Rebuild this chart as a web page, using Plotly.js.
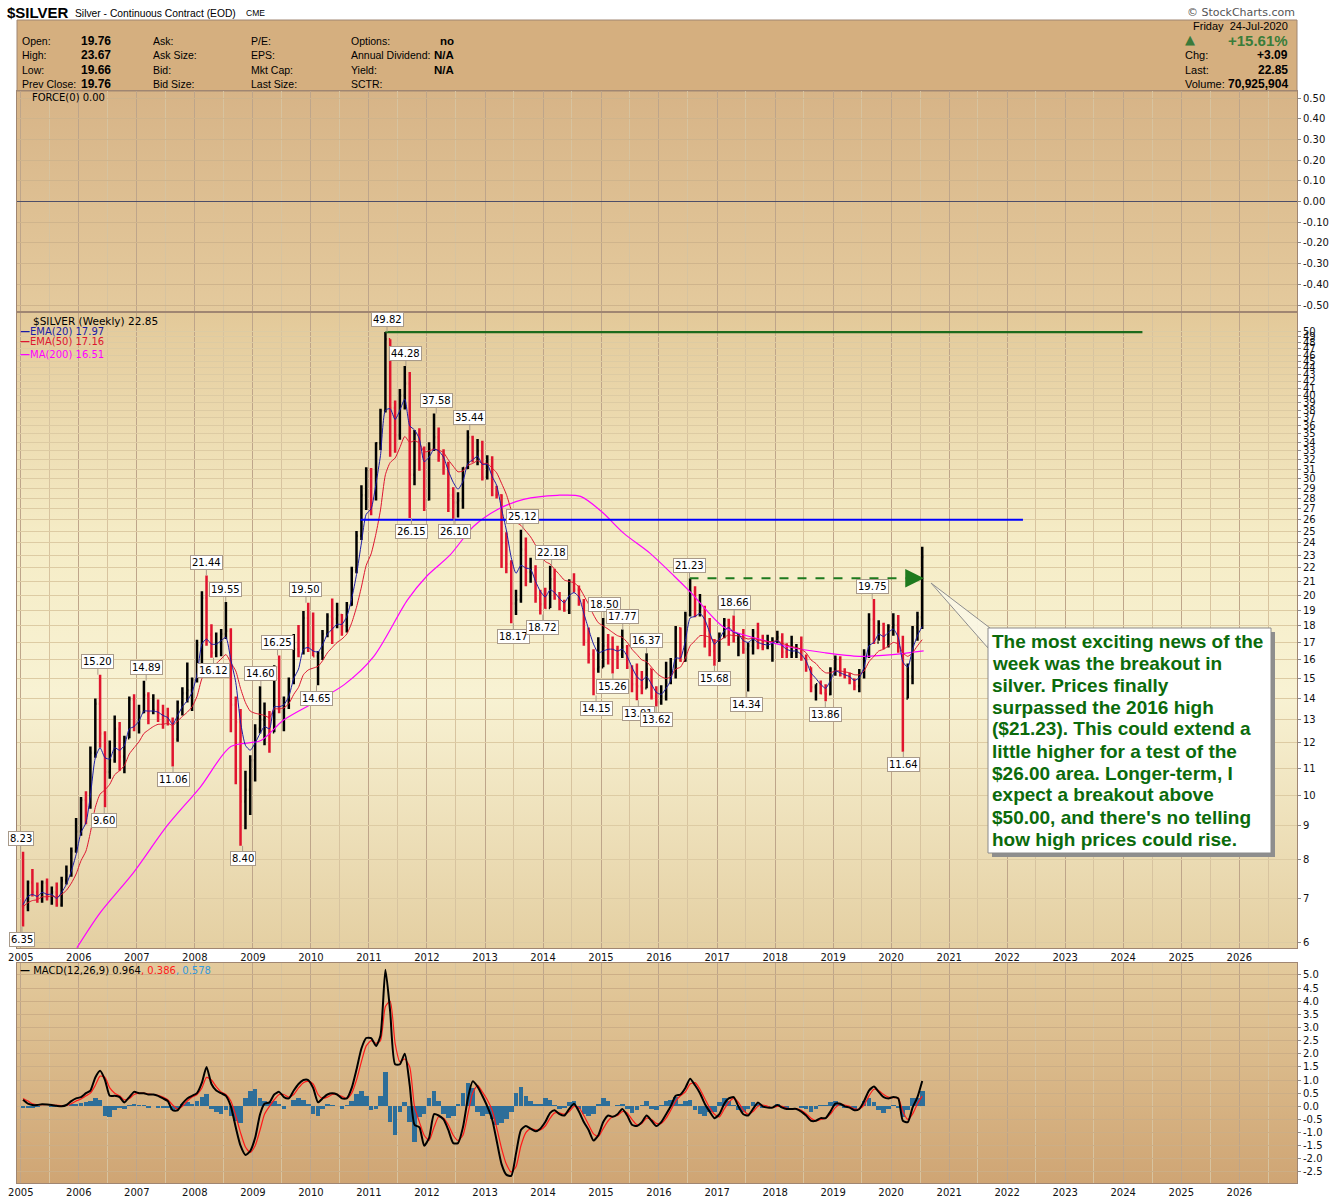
<!DOCTYPE html>
<html>
<head>
<meta charset="utf-8">
<script src="https://cdn.plot.ly/plotly-3.0.1.min.js"></script>
<style>
html,body{margin:0;padding:0;background:#ffffff;}
#chart{width:1340px;height:1200px;}
</style>
</head>
<body>
<div id="chart"></div>
<script>
// ---------------- DATA (monthly) ----------------
const firstOpen = 6.82;
const closes = [
 6.79,7.40,7.15,7.05,7.40,7.05,7.15,6.85,7.45,7.70,8.25,8.83,
 9.85,9.65,11.60,13.75,12.40,10.85,11.30,12.60,11.45,12.20,13.95,12.90,
 13.35,14.15,13.35,13.45,13.25,12.95,12.95,12.15,13.80,14.25,14.40,14.95,
 16.85,19.85,17.45,16.40,16.95,17.50,17.70,13.70,12.90,9.80,10.20,11.30,
 12.60,13.00,13.10,12.45,15.60,13.55,13.90,14.85,16.60,16.45,18.50,16.90,
 16.20,16.40,17.50,18.60,18.45,18.70,18.00,19.35,21.80,24.60,28.30,30.90,
 27.95,33.90,37.90,48.60,38.30,34.85,40.00,41.70,30.40,35.00,32.80,27.90,
 33.20,34.60,32.50,31.20,28.30,27.60,27.80,31.10,34.60,32.30,33.00,30.10,
 31.50,28.35,28.30,24.00,22.30,19.45,19.70,23.45,21.70,21.85,19.80,19.40,
 19.15,21.15,19.80,19.10,19.00,21.00,20.40,19.45,17.10,16.30,15.50,15.60,
 16.80,16.60,16.60,16.30,16.75,15.60,14.70,14.60,14.50,15.50,14.10,13.82,
 14.10,14.80,15.45,17.85,15.95,18.70,20.30,18.70,19.20,17.70,16.50,15.95,
 17.50,18.35,18.20,17.20,17.40,16.60,16.80,17.60,16.75,16.75,16.80,17.10,
 17.30,16.45,16.30,16.40,16.45,16.10,15.60,14.55,14.70,14.25,14.20,15.50,
 16.05,15.20,15.10,14.95,14.60,15.30,16.40,18.40,17.00,18.10,17.10,17.95,
 18.05,16.70,14.00,15.10,17.90,18.55,22.85
];
const highs = [
 8.23,7.45,7.75,7.40,7.45,7.50,7.30,7.40,7.55,7.85,8.35,9.25,
 9.95,10.15,11.85,14.00,15.20,12.50,12.10,13.20,12.90,12.30,14.10,14.20,
 13.70,14.89,14.30,14.20,13.95,13.70,13.55,13.10,13.90,14.55,15.85,15.05,
 17.15,20.30,21.44,18.10,17.60,17.80,19.55,17.85,14.10,13.50,10.90,11.50,
 12.80,14.60,13.80,13.40,15.70,16.25,14.10,15.05,17.50,18.05,18.95,19.50,
 18.85,16.50,17.75,18.80,19.80,19.50,18.75,19.55,22.10,25.00,29.30,31.20,
 31.10,34.00,38.20,49.82,48.60,39.30,40.90,44.28,43.40,35.50,35.70,33.50,
 34.00,37.58,35.80,33.20,31.80,29.10,28.60,31.20,35.44,34.80,34.40,34.20,
 32.50,32.40,29.25,28.40,24.90,22.60,20.40,25.12,24.45,22.80,22.20,20.40,
 20.55,22.18,21.95,20.25,19.70,21.15,21.60,20.70,19.75,17.90,16.60,17.30,
 18.50,17.50,17.35,16.80,17.77,16.85,15.70,15.80,15.40,16.37,15.50,14.60,
 14.65,15.90,16.10,18.00,17.90,18.90,21.23,20.65,20.10,19.30,18.50,17.20,
 17.60,18.50,18.45,18.66,17.50,17.80,17.00,17.80,18.20,17.45,17.45,17.30,
 17.70,17.55,16.95,17.40,16.90,17.35,16.30,15.60,14.70,14.90,14.70,15.60,
 16.25,16.20,15.55,15.30,15.00,15.50,16.60,18.80,19.75,18.35,18.20,18.10,
 18.80,18.70,17.40,15.80,18.00,18.90,23.67
];
const lows = [
 6.35,6.70,7.05,6.90,6.90,6.95,6.85,6.80,6.80,7.35,7.55,8.20,
 8.70,9.05,9.55,11.40,11.80,9.60,10.60,11.20,10.90,10.80,12.20,12.50,
 12.40,13.30,12.80,13.25,12.90,12.60,12.75,11.06,12.05,13.20,13.80,13.40,
 14.80,15.70,16.80,16.12,16.15,16.20,17.20,12.45,10.40,8.40,8.90,9.35,
 10.50,12.40,11.90,11.60,12.45,13.30,12.50,13.50,14.70,16.15,16.30,16.45,
 16.20,14.65,16.00,17.30,16.90,17.85,17.40,17.60,19.30,21.60,24.25,26.90,
 26.40,27.80,33.10,37.70,32.35,32.80,34.30,38.10,26.15,29.30,30.80,26.80,
 27.80,33.00,31.80,30.40,26.70,26.10,26.20,27.00,31.00,31.70,31.40,29.80,
 29.90,28.20,28.00,22.00,21.60,18.17,18.70,19.50,20.65,20.90,19.50,18.72,
 19.10,19.15,19.70,19.00,18.90,18.75,20.20,19.30,16.80,15.80,14.15,15.30,
 15.60,15.75,15.26,15.50,16.10,15.50,14.30,13.91,14.20,14.50,13.95,13.62,
 13.70,13.90,14.70,15.00,15.90,15.90,18.60,18.55,18.60,16.70,16.20,15.68,
 15.90,17.25,16.80,17.00,16.20,16.35,14.34,16.30,16.60,16.55,16.60,15.90,
 16.95,16.10,16.10,16.10,16.10,15.95,15.35,14.30,13.90,14.20,13.86,14.15,
 15.15,15.10,15.00,14.70,14.40,14.30,15.00,16.10,16.90,17.10,16.60,16.70,
 17.40,16.40,11.64,14.00,14.70,17.10,17.80
];
const ema20 = [
 6.85,7.05,7.10,7.05,7.15,7.10,7.10,7.00,7.15,7.35,7.70,8.15,
 8.80,9.10,10.00,11.40,11.80,11.40,11.35,11.80,11.70,11.90,12.60,12.70,
 12.95,13.40,13.40,13.40,13.35,13.20,13.10,12.80,13.20,13.60,13.90,14.30,
 15.20,16.90,17.20,16.90,16.90,17.10,17.30,16.00,14.80,12.90,11.90,11.70,
 12.00,12.40,12.70,12.60,13.60,13.60,13.70,14.10,15.00,15.50,16.60,16.70,
 16.50,16.45,16.85,17.50,17.80,18.10,18.10,18.60,19.80,21.50,24.00,26.50,
 27.00,29.50,32.50,38.00,38.20,36.80,38.00,39.50,36.00,35.50,34.40,31.80,
 32.30,33.20,33.00,32.30,30.80,29.60,28.90,29.70,31.60,32.00,32.40,31.50,
 31.50,30.20,29.30,27.00,25.10,22.80,21.60,22.20,22.00,21.90,21.00,20.30,
 19.90,20.40,20.20,19.80,19.50,20.00,20.20,19.90,18.80,17.80,16.90,16.40,
 16.50,16.60,16.60,16.50,16.60,16.20,15.60,15.10,14.90,15.10,14.70,14.30,
 14.20,14.50,14.90,16.10,16.10,17.10,18.50,18.60,18.80,18.40,17.60,16.90,
 17.20,17.70,17.90,17.60,17.50,17.10,17.00,17.20,17.00,16.90,16.85,16.95,
 17.10,16.80,16.60,16.50,16.50,16.30,15.95,15.30,15.00,14.70,14.50,14.90,
 15.40,15.30,15.20,15.10,14.90,15.05,15.60,16.80,17.00,17.50,17.35,17.60,
 17.80,17.30,15.90,15.60,16.60,17.40,17.97
];
const ema50 = [
 6.80,6.90,6.95,6.97,7.04,7.04,7.06,7.03,7.10,7.20,7.38,7.62,
 7.98,8.25,8.80,9.60,10.05,10.20,10.40,10.75,10.90,11.10,11.55,11.80,
 12.05,12.40,12.55,12.70,12.80,12.80,12.85,12.75,12.95,13.15,13.35,13.60,
 14.10,15.00,15.40,15.60,15.80,16.05,16.30,15.85,15.40,14.50,13.80,13.40,
 13.30,13.25,13.20,13.10,13.50,13.50,13.55,13.75,14.20,14.55,15.20,15.45,
 15.55,15.65,15.95,16.40,16.70,17.00,17.20,17.50,18.20,19.20,20.60,22.20,
 23.10,24.80,26.90,30.40,31.70,32.20,33.40,34.70,34.00,34.20,33.90,32.90,
 33.00,33.20,33.10,32.80,32.00,31.30,30.70,30.80,31.40,31.60,31.90,31.60,
 31.60,31.10,30.60,29.50,28.40,26.90,25.80,25.50,25.00,24.50,23.80,23.10,
 22.50,22.30,21.90,21.50,21.10,21.00,20.90,20.60,20.00,19.40,18.70,18.20,
 18.00,17.80,17.60,17.40,17.30,17.00,16.60,16.30,16.00,15.90,15.60,15.30,
 15.10,15.00,15.10,15.50,15.60,16.10,16.80,17.10,17.40,17.40,17.30,17.10,
 17.10,17.30,17.45,17.40,17.40,17.30,17.20,17.25,17.15,17.10,17.05,17.05,
 17.10,16.95,16.85,16.75,16.70,16.60,16.40,16.00,15.80,15.50,15.30,15.30,
 15.40,15.40,15.35,15.30,15.20,15.20,15.40,15.90,16.20,16.50,16.60,16.80,
 17.00,16.90,16.40,16.20,16.40,16.80,17.16
];
const ma200Dates = ['2005-12-20','2006-05-15','2006-12-10','2007-07-10','2008-02-05','2008-08-15','2009-02-20','2009-07-15','2010-02-15','2010-08-01','2011-02-01','2011-09-01','2012-01-01','2012-05-25','2012-10-20','2013-03-15','2013-09-01','2014-04-01','2014-08-25','2015-01-01','2015-05-25','2015-11-01','2016-04-05','2016-07-20','2017-02-15','2017-09-20','2018-04-15','2018-11-10','2019-06-15','2020-01-10','2020-07-24'];
const ma200 = [5.9,6.66,7.65,9.0,10.3,11.85,12.1,13.0,13.9,14.7,16.2,19.7,21.4,23.0,25.4,26.9,27.9,28.3,28.2,26.8,24.8,23.2,21.4,20.2,17.9,17.2,16.7,16.4,16.2,16.3,16.51];
const macd = [
 0.25,0.10,0.05,0.05,0.08,0.07,0.05,0.02,0.00,0.05,0.20,0.30,
 0.35,0.50,0.60,1.10,1.35,1.00,0.40,0.40,0.35,0.15,0.35,0.55,
 0.50,0.50,0.45,0.45,0.40,0.30,0.20,-0.15,-0.15,0.10,0.30,0.40,
 0.50,0.90,1.50,0.85,0.60,0.50,0.40,0.00,-0.80,-1.50,-1.85,-1.70,
 -1.20,-0.30,0.10,0.15,0.45,0.55,0.35,0.30,0.60,0.85,1.00,1.00,
 0.70,0.15,0.30,0.45,0.50,0.45,0.30,0.30,0.70,1.40,2.20,2.60,
 2.60,2.30,2.70,5.20,3.60,1.60,1.60,2.00,0.80,-0.70,-0.80,-1.50,
 -1.20,-0.30,-0.35,-0.50,-0.90,-1.40,-1.40,-0.80,0.30,0.95,0.75,0.40,
 0.00,-0.50,-1.30,-2.20,-2.60,-2.65,-1.80,-0.90,-0.75,-0.85,-0.95,-0.85,
 -0.60,-0.25,-0.15,-0.30,-0.35,-0.10,0.10,-0.20,-0.60,-0.90,-1.30,-1.10,
 -0.60,-0.35,-0.40,-0.30,-0.10,-0.35,-0.70,-0.75,-0.60,-0.35,-0.55,-0.75,
 -0.60,-0.30,0.00,0.40,0.45,0.70,1.05,0.80,0.50,0.10,-0.20,-0.45,
 -0.30,0.10,0.30,0.35,0.00,-0.30,-0.35,-0.10,0.15,0.00,-0.05,-0.05,
 0.05,-0.05,-0.10,-0.10,-0.10,-0.20,-0.35,-0.55,-0.55,-0.45,-0.45,-0.20,
 0.10,0.10,0.00,-0.05,-0.15,-0.10,0.20,0.60,0.75,0.55,0.35,0.30,
 0.35,0.30,-0.55,-0.60,-0.05,0.35,0.964
];
const signal = [
 0.30,0.20,0.10,0.06,0.06,0.07,0.06,0.04,0.02,0.03,0.10,0.20,
 0.28,0.40,0.50,0.80,1.15,1.10,0.70,0.50,0.40,0.25,0.30,0.45,
 0.50,0.50,0.47,0.45,0.42,0.35,0.25,0.05,-0.10,0.00,0.20,0.35,
 0.45,0.70,1.10,1.00,0.75,0.55,0.45,0.20,-0.35,-1.00,-1.55,-1.75,
 -1.50,-0.90,-0.30,0.00,0.25,0.45,0.45,0.35,0.45,0.70,0.90,0.95,
 0.85,0.45,0.30,0.35,0.45,0.45,0.38,0.30,0.50,1.00,1.70,2.30,
 2.50,2.40,2.50,3.80,4.00,2.40,1.70,1.80,1.50,0.00,-0.60,-1.10,
 -1.30,-0.80,-0.40,-0.45,-0.70,-1.10,-1.30,-1.10,-0.30,0.50,0.80,0.55,
 0.25,-0.15,-0.80,-1.60,-2.20,-2.50,-2.30,-1.50,-1.00,-0.85,-0.90,-0.90,
 -0.75,-0.45,-0.25,-0.25,-0.30,-0.20,0.00,-0.05,-0.35,-0.70,-1.05,-1.15,
 -0.85,-0.55,-0.40,-0.35,-0.20,-0.25,-0.50,-0.70,-0.65,-0.45,-0.50,-0.65,
 -0.65,-0.45,-0.15,0.20,0.40,0.55,0.85,0.90,0.65,0.30,-0.05,-0.30,
 -0.40,-0.10,0.15,0.30,0.15,-0.15,-0.30,-0.20,0.00,0.05,0.00,-0.05,
 0.00,0.00,-0.07,-0.10,-0.10,-0.15,-0.28,-0.45,-0.55,-0.50,-0.45,-0.30,
 -0.05,0.08,0.05,0.00,-0.10,-0.10,0.05,0.40,0.65,0.60,0.45,0.35,
 0.33,0.32,-0.20,-0.50,-0.30,0.10,0.386
];
const macdHist = [
 -0.05,-0.08,-0.05,-0.02,0.02,0.00,-0.02,-0.02,-0.02,0.02,0.08,0.10,
 0.12,0.15,0.20,0.30,0.25,-0.35,-0.40,-0.15,-0.05,-0.10,0.05,0.10,
 0.05,0.05,-0.05,0.02,-0.05,-0.08,-0.08,-0.15,-0.10,0.10,0.15,0.10,
 0.20,0.35,0.45,-0.10,-0.20,-0.30,-0.15,-0.35,-0.55,-0.65,0.30,0.60,
 0.65,0.30,0.20,0.15,0.20,0.10,-0.10,0.00,0.25,0.30,0.25,0.10,
 -0.30,-0.35,-0.10,0.10,0.05,0.00,-0.10,0.05,0.20,0.45,0.60,0.40,
 -0.15,-0.10,0.40,1.30,-0.60,-1.10,-0.20,0.15,-0.60,-1.35,-0.40,-0.30,
 0.30,0.60,0.20,-0.30,-0.45,-0.35,0.10,0.50,0.90,0.70,-0.20,-0.35,
 -0.30,-0.50,-0.70,-0.65,-0.50,-0.20,0.50,0.75,0.40,0.20,0.10,0.10,
 0.30,0.25,0.05,-0.10,-0.05,0.15,0.20,-0.10,-0.30,-0.35,-0.30,0.10,
 0.30,0.20,0.00,0.05,0.10,-0.10,-0.25,-0.15,0.05,0.20,-0.10,-0.15,
 0.05,0.20,0.25,0.35,0.10,0.20,0.25,-0.15,-0.30,-0.35,-0.20,-0.20,
 0.15,0.30,0.20,0.05,-0.15,-0.20,-0.10,0.15,0.10,-0.05,-0.05,0.00,
 0.08,-0.05,-0.05,0.00,0.00,-0.05,-0.10,-0.20,-0.10,0.05,0.05,0.15,
 0.20,0.10,-0.05,-0.05,-0.10,0.00,0.20,0.30,0.15,-0.15,-0.25,-0.10,
 0.05,-0.05,-0.40,-0.15,0.30,0.30,0.578
];
// pivot labels
const pivotDates = ['2004-12-31','2005-01-08','2006-05-01','2006-06-10','2007-03-01','2007-08-17','2008-03-14','2008-04-28','2008-07-14','2008-10-28','2009-02-20','2009-06-05','2009-12-01','2010-02-05','2011-04-25','2011-08-22','2011-09-26','2012-02-29','2012-06-20','2012-09-27','2013-06-28','2013-08-28','2013-12-31','2014-02-24','2014-12-01','2015-01-20','2015-03-17','2015-05-18','2015-08-24','2015-10-15','2015-12-14','2016-07-11','2016-12-15','2017-04-18','2017-07-06','2018-11-13','2019-09-04','2020-03-18'];
const pivotValues = [8.23,6.35,15.20,9.60,14.89,11.06,21.44,16.12,19.55,8.40,14.60,16.25,19.50,14.65,49.82,44.28,26.15,37.58,26.10,35.44,18.17,25.12,18.72,22.18,14.15,18.50,15.26,17.77,13.91,16.37,13.62,21.23,15.68,18.66,14.34,13.86,19.75,11.64];
const pivotSide = ['H','L','H','L','H','L','H','L','H','L','H','H','H','L','H','H','L','H','L','H','L','H','L','H','L','H','L','H','L','H','L','H','L','H','L','L','H','L'];
// drawn levels
const resistanceLevel = [49.82, 49.82], resistanceSpan = ['2011-04-15','2024-05-01'];
const supportLevel = [26.00, 26.00], supportSpan = ['2010-11-10','2022-04-10'];
const breakoutLevel = [21.23, 21.23], breakoutSpan = ['2016-07-11','2020-05-12'];
const breakoutArrowTip = '2020-07-26';
// ticks
const priceTicks = [6,7,8,9,10,11,12,13,14,15,16,17,18,19,20,21,22,23,24,25,26,27,28,29,30,31,32,33,34,35,36,37,38,39,40,41,42,43,44,45,46,47,48,49,50];
const forceTicks = [-0.5,-0.4,-0.3,-0.2,-0.1,0,0.1,0.2,0.3,0.4,0.5];
const macdTicks = [-2.5,-2.0,-1.5,-1.0,-0.5,0,0.5,1.0,1.5,2.0,2.5,3.0,3.5,4.0,4.5,5.0];
// header texts
const hdrLabels = [['Open:','High:','Low:','Prev Close:'],['Ask:','Ask Size:','Bid:','Bid Size:'],['P/E:','EPS:','Mkt Cap:','Last Size:'],['Options:','Annual Dividend:','Yield:','SCTR:']];
const hdrValues = ['19.76','23.67','19.66','19.76'];
const hdrCol4Values = ['no','N/A','N/A',''];
const quoteDate = 'Friday\u00a0\u00a024-Jul-2020', pctChange = '+15.61%', chgValue = '+3.09', lastValue = '22.85', volumeValue = '70,925,904';
const calloutLines = ["The most exciting news of the","week was the breakout in","silver. Prices finally","surpassed the 2016 high","($21.23). This could extend a","little higher for a test of the","$26.00 area. Longer-term, I","expect a breakout above","$50.00, and there's no telling","how high prices could rise."];

// ---------------- derived ----------------
const months = closes.map((_, i) => `${2005 + Math.floor(i / 12)}-${String(i % 12 + 1).padStart(2, '0')}-15`);
const opens = closes.map((c, i) => i === 0 ? firstOpen : closes[i - 1]);

// ---------------- layout helpers ----------------
const P = px => (px - 17) / 1280;
const Q = py => (1183 - py) / 1092;
function grad(stops) {
  const s = stops.map(([o, c]) => `<stop offset='${o}' stop-color='${c}'/>`).join('');
  const svg = `<svg xmlns='http://www.w3.org/2000/svg' width='10' height='100' viewBox='0 0 10 100' preserveAspectRatio='none'><defs><linearGradient id='g' x1='0' y1='0' x2='0' y2='1'>${s}</linearGradient></defs><rect width='10' height='100' fill='url(#g)'/></svg>`;
  return 'data:image/svg+xml;charset=utf-8,' + encodeURIComponent(svg);
}
function txt(text, px, py, opt) {
  return Object.assign({xref:'paper', yref:'paper', x:P(px), y:Q(py), text:text, showarrow:false,
    xanchor:'left', yanchor:'middle', font:{family:'Liberation Sans', size:10.5, color:'#000'}}, opt || {});
}

const domForce = [0.7985, 1.0], domPrice = [0.2152, 0.7967], domMacd = [0, 0.2015];

// ---------------- traces ----------------
const traces = [
  {type:'scatter', mode:'lines', x:[], y:[], xaxis:'x3', yaxis:'y3', hoverinfo:'skip'},
  {type:'ohlc', x:months, open:opens, high:highs, low:lows, close:closes, xaxis:'x2', yaxis:'y2',
   increasing:{line:{color:'#000000', width:2.5}}, decreasing:{line:{color:'#E0142E', width:2.5}},
   tickwidth:0.3, hoverinfo:'skip'},
  {type:'scatter', mode:'lines', x:ma200Dates, y:ma200, xaxis:'x2', yaxis:'y2',
   line:{color:'#FF00FF', width:1.2, shape:'spline', smoothing:0.8}, hoverinfo:'skip'},
  {type:'scatter', mode:'lines', x:months, y:ema50, xaxis:'x2', yaxis:'y2',
   line:{color:'#DD1530', width:1, shape:'spline', smoothing:0.6}, hoverinfo:'skip'},
  {type:'scatter', mode:'lines', x:months, y:ema20, xaxis:'x2', yaxis:'y2',
   line:{color:'#1B1BA6', width:1, shape:'spline', smoothing:0.6}, hoverinfo:'skip'},
  {type:'scatter', mode:'lines', x:resistanceSpan, y:resistanceLevel, xaxis:'x2', yaxis:'y2',
   line:{color:'#1C6A1C', width:2.2}, hoverinfo:'skip'},
  {type:'scatter', mode:'lines', x:supportSpan, y:supportLevel, xaxis:'x2', yaxis:'y2',
   line:{color:'#0000FF', width:2.2}, hoverinfo:'skip'},
  {type:'scatter', mode:'lines', x:breakoutSpan, y:breakoutLevel, xaxis:'x2', yaxis:'y2',
   line:{color:'#1E7A1E', width:2.2, dash:'dash'}, hoverinfo:'skip'},
  {type:'bar', x:months, y:macdHist, xaxis:'x', yaxis:'y', marker:{color:'#2D6E99', line:{width:0}},
   width:29*86400000, hoverinfo:'skip'},
  {type:'scatter', mode:'lines', x:months, y:signal, xaxis:'x', yaxis:'y',
   line:{color:'#FF1A1A', width:1.2, shape:'spline', smoothing:0.6}, hoverinfo:'skip'},
  {type:'scatter', mode:'lines', x:months, y:macd, xaxis:'x', yaxis:'y',
   line:{color:'#000000', width:2, shape:'spline', smoothing:0.6}, hoverinfo:'skip'}
];

// ---------------- axes ----------------
const xCommon = {
  type:'date', range:['2004-12-08','2026-12-30'], dtick:'M12', tick0:'2005-01-01', tickformat:'%Y',
  showgrid:true, gridcolor:'#BEA58A', gridwidth:1,
  minor:{dtick:'M6', tick0:'2005-01-01', showgrid:true, gridcolor:'#D7C39F', gridwidth:1},
  showline:true, mirror:true, linecolor:'#A08672', linewidth:1, ticks:'', zeroline:false,
  tickfont:{family:'DejaVu Sans', size:10, color:'#111'}, fixedrange:true
};
const yCommon = {side:'right', showline:true, mirror:true, linecolor:'#A08672', linewidth:1,
  ticks:'outside', ticklen:3, tickcolor:'#888', tickfont:{family:'DejaVu Sans', size:10, color:'#111'},
  fixedrange:true, zeroline:false};

// ---------------- annotations ----------------
const ann = [];
pivotDates.forEach((d, i) => {
  const up = pivotSide[i] === 'H';
  ann.push({xref:'x2', yref:'y2', x:d, y:Math.log10(pivotValues[i]), text:pivotValues[i].toFixed(2),
    showarrow:true, arrowhead:0, arrowwidth:1, arrowcolor:'#A89A8A', ax:0, ay: up ? -13 : 13,
    bgcolor:'#FFFFFF', bordercolor:'#A89A8A', borderwidth:1, borderpad:1,
    font:{family:'DejaVu Sans', size:10, color:'#000'}});
});
ann.push({xref:'x2', yref:'y2', x:breakoutArrowTip, y:Math.log10(breakoutLevel[0]), text:'',
  showarrow:true, arrowhead:2, arrowsize:1.7, arrowwidth:2.2, arrowcolor:'#1E7A1E', ax:-16, ay:0});
// title
ann.push(txt('<b>$SILVER</b>', 5, 12, {font:{family:'Liberation Sans', size:15, color:'#000'}}));
ann.push(txt('Silver - Continuous Contract (EOD)', 73, 13, {font:{family:'Liberation Sans', size:10.3, color:'#000'}}));
ann.push(txt('CME', 244, 13, {font:{family:'Liberation Sans', size:8.5, color:'#000'}}));
ann.push(txt('\u00a9 StockCharts.com', 1297, 12, {xanchor:'right', font:{family:'DejaVu Sans', size:11, color:'#555'}}));
// header left block
const rowsY = [41, 55, 70, 84];
const colX = [20, 151, 249, 349];
hdrLabels.forEach((col, c) => col.forEach((lab, r) => ann.push(txt(lab, colX[c], rowsY[r]))));
hdrValues.forEach((v, r) => ann.push(txt('<b>' + v + '</b>', 113, rowsY[r], {xanchor:'right', font:{family:'Liberation Sans', size:12, color:'#000'}})));
hdrCol4Values.forEach((v, r) => { if (v) ann.push(txt('<b>' + v + '</b>', 456, rowsY[r], {xanchor:'right', font:{family:'Liberation Sans', size:11.5, color:'#000'}})); });
// header right block
ann.push(txt(quoteDate, 1290, 26, {xanchor:'right', font:{family:'Liberation Sans', size:11, color:'#000'}}));
ann.push(txt('\u25B2', 1190, 40, {xanchor:'center', font:{family:'DejaVu Sans', size:13, color:'#3A7A3A'}}));
ann.push(txt('<b>' + pctChange + '</b>', 1290, 41, {xanchor:'right', font:{family:'Liberation Sans', size:15, color:'#3A7D3A'}}));
ann.push(txt('Chg:', 1183, 55, {font:{family:'Liberation Sans', size:11, color:'#000'}}));
ann.push(txt('<b>' + chgValue + '</b>', 1290, 55, {xanchor:'right', font:{family:'Liberation Sans', size:12, color:'#000'}}));
ann.push(txt('Last:', 1183, 70, {font:{family:'Liberation Sans', size:11, color:'#000'}}));
ann.push(txt('<b>' + lastValue + '</b>', 1290, 70, {xanchor:'right', font:{family:'Liberation Sans', size:12, color:'#000'}}));
ann.push(txt('Volume:', 1183, 84, {font:{family:'Liberation Sans', size:11, color:'#000'}}));
ann.push(txt('<b>' + volumeValue + '</b>', 1290, 84, {xanchor:'right', font:{family:'Liberation Sans', size:12, color:'#000'}}));
// panel legends
const lf = {family:'DejaVu Sans', size:10, color:'#000'};
ann.push(txt('FORCE(0) 0.00', 30, 98, {font:lf}));
ann.push(txt('$SILVER (Weekly) 22.85', 31, 321, {font:{family:'DejaVu Sans', size:10.5, color:'#000'}}));
ann.push(txt('<b>\u2014</b>EMA(20) 17.97', 18, 331, {font:{family:'DejaVu Sans', size:10, color:'#1B1BA6'}}));
ann.push(txt('<b>\u2014</b>EMA(50) 17.16', 18, 342, {font:{family:'DejaVu Sans', size:10, color:'#DD1530'}}));
ann.push(txt('<b>\u2014</b>MA(200) 16.51', 18, 354, {font:{family:'DejaVu Sans', size:10, color:'#FF00FF'}}));
ann.push(txt('<b>\u2014</b> MACD(12,26,9) 0.964<span style="color:#FF1A1A">, 0.386</span><span style="color:#3399DD">, 0.578</span>', 18, 970, {font:lf}));
// callout text lines
calloutLines.forEach((line, i) => ann.push(txt('<b>' + line + '</b>', 990, 641 + 22 * i,
  {font:{family:'Liberation Sans', size:19, color:'#0B6B0B'}})));

// ---------------- shapes ----------------
const shapes = [
  {type:'rect', xref:'paper', yref:'paper', x0:0, x1:1, y0:1.0, y1:Q(20), fillcolor:'#D5AF7F', line:{color:'#A08672', width:1}, layer:'below'},
  {type:'rect', xref:'paper', yref:'paper', x0:P(992), x1:P(1275), y0:Q(857), y1:Q(632), fillcolor:'#8E8E8E', line:{width:0}, layer:'above'},
  {type:'path', xref:'paper', yref:'paper', path:`M ${P(931)},${Q(583)} L ${P(990)},${Q(628)} L ${P(988)},${Q(648)} Z`, fillcolor:'rgba(250,246,228,0.9)', line:{color:'#8E8E8E', width:1}, layer:'above'},
  {type:'rect', xref:'paper', yref:'paper', x0:P(988), x1:P(1271), y0:Q(853), y1:Q(628), fillcolor:'#FFFFFF', line:{color:'#8A8A8A', width:1}, layer:'above'}
];

// ---------------- background gradients ----------------
const images = [
  {source:grad([[0,'#D7B487'],[1,'#E4CA9D']]), xref:'paper', yref:'paper', x:0, y:domForce[1], sizex:1, sizey:domForce[1]-domForce[0], xanchor:'left', yanchor:'top', sizing:'stretch', layer:'below'},
  {source:grad([[0,'#E3C999'],[0.35,'#F5ECC6'],[0.6,'#F8F2D3'],[1,'#E4CFA2']]), xref:'paper', yref:'paper', x:0, y:domPrice[1], sizex:1, sizey:domPrice[1]-domPrice[0], xanchor:'left', yanchor:'top', sizing:'stretch', layer:'below'},
  {source:grad([[0,'#E3CA9C'],[1,'#CFA574']]), xref:'paper', yref:'paper', x:0, y:domMacd[1], sizex:1, sizey:domMacd[1]-domMacd[0], xanchor:'left', yanchor:'top', sizing:'stretch', layer:'below'}
];

const layout = {
  width:1340, height:1200,
  margin:{l:17, r:43, t:91, b:17},
  paper_bgcolor:'#FFFFFF', plot_bgcolor:'rgba(0,0,0,0)',
  showlegend:false, hovermode:false, dragmode:false, bargap:0,
  font:{family:'DejaVu Sans', size:10, color:'#111'},
  xaxis:Object.assign({}, xCommon, {anchor:'y'}),
  xaxis2:Object.assign({}, xCommon, {anchor:'y2', rangeslider:{visible:false}}),
  xaxis3:Object.assign({}, xCommon, {anchor:'y3', showticklabels:false}),
  yaxis:Object.assign({}, yCommon, {domain:domMacd, range:[-2.919, 5.457], tickvals:macdTicks,
    ticktext:macdTicks.map(v => v.toFixed(1)), showgrid:true, gridcolor:'#CCAE86'}),
  yaxis2:Object.assign({}, yCommon, {domain:domPrice, type:'log', range:[0.7706, 1.7261], tickvals:priceTicks,
    ticktext:priceTicks.map(String), showgrid:true, gridcolor:'#DDCBA3'}),
  yaxis3:Object.assign({}, yCommon, {domain:domForce, range:[-0.529, 0.534], tickvals:forceTicks,
    ticktext:forceTicks.map(v => v.toFixed(2)), showgrid:true, gridcolor:'#CFB48C',
    zeroline:true, zerolinecolor:'#4E4E68', zerolinewidth:1}),
  annotations:ann, shapes:shapes, images:images
};

Plotly.newPlot('chart', traces, layout, {staticPlot:true, displayModeBar:false});
</script>
</body>
</html>
